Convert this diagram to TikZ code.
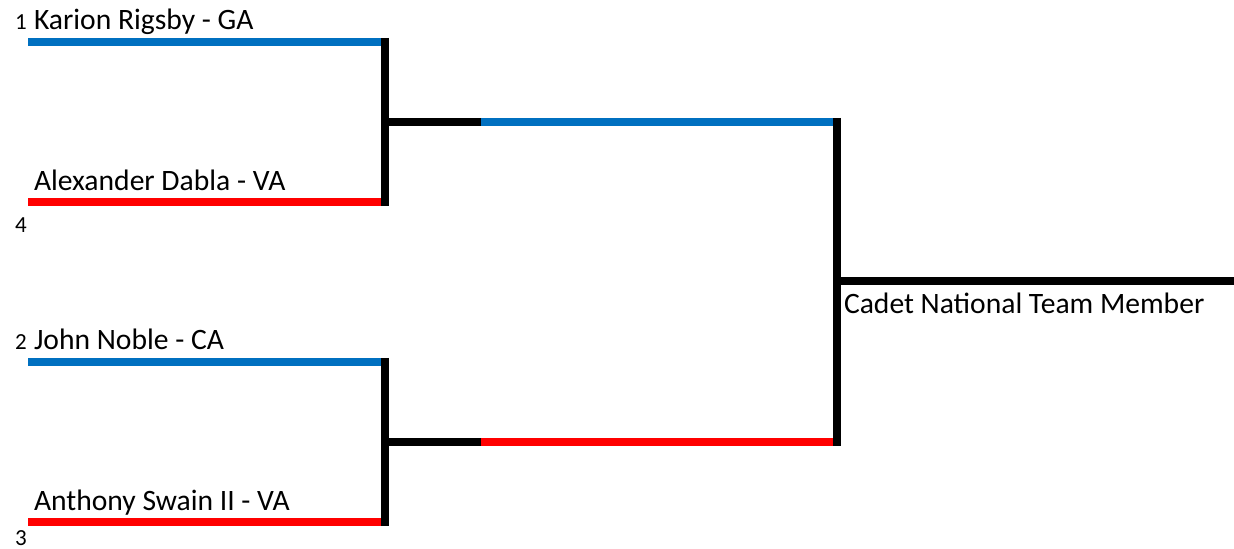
\documentclass[tikz,border=0pt]{standalone}
\usepackage{fontspec}
\setmainfont{Carlito}
\usepackage{xcolor}
\definecolor{seedblue}{RGB}{0,112,192}
\definecolor{seedred}{RGB}{255,0,0}

\begin{document}
\begin{tikzpicture}[x=.5pt, y=-.5pt, line width=4pt,
             entrant/.style={draw=none, anchor=base west, inner sep=0pt, font=\fontsize{14.8}{17}\selectfont},
             seednum/.style={draw=none, anchor=base west, inner sep=0pt, font=\fontsize{11.5}{13}\selectfont}]
             \useasboundingbox (0,0) rectangle (1234,549);

             % upper bracket
             \node[seednum] (s1) at (11, 30) {1};
             \node[entrant] (karion) at (30, 30) {Karion Rigsby - GA};
             \node[entrant] (alex) at (30, 191) {Alexander Dabla - VA};
             \node[seednum] (s4) at (11, 233) {4};
             \coordinate (k0) at (28, 42);   \coordinate (k1) at (381, 42);
             \coordinate (a0) at (28, 202);  \coordinate (a1) at (381, 202);
             \coordinate (ut) at (385, 38);  \coordinate (ub) at (385, 206);
             \coordinate (um) at (389, 122); \coordinate (uj) at (481, 122);
             \coordinate (ue) at (833, 122);
             \draw[seedblue] (k0) -- (k1);
             \draw[seedred] (a0) -- (a1);
             \draw (ut) -- (ub);
             \draw (um) -- (uj);
             \draw[seedblue] (uj) -- (ue);

             % lower bracket
             \node[seednum] (s2) at (11, 350) {2};
             \node[entrant] (john) at (30, 350) {John Noble - CA};
             \node[entrant] (anthony) at (30, 510) {Anthony Swain II - VA};
             \node[seednum] (s3) at (11, 545) {3};
             \coordinate (j0) at (28, 362);  \coordinate (j1) at (381, 362);
             \coordinate (n0) at (28, 522);  \coordinate (n1) at (381, 522);
             \coordinate (lt) at (385, 358); \coordinate (lb) at (385, 526);
             \coordinate (lm) at (389, 442); \coordinate (lj) at (481, 442);
             \coordinate (le) at (833, 442);
             \draw[seedblue] (j0) -- (j1);
             \draw[seedred] (n0) -- (n1);
             \draw (lt) -- (lb);
             \draw (lm) -- (lj);
             \draw[seedred] (lj) -- (le);

             % final
             \coordinate (ft) at (837, 118); \coordinate (fb) at (837, 446);
             \coordinate (fm) at (841, 281); \coordinate (fe) at (1234, 281);
             \draw (ft) -- (fb);
             \draw (fm) -- (fe);
             \node[entrant] (cadet) at (840, 314) {Cadet National Team Member};
\end{tikzpicture}
\end{document}
